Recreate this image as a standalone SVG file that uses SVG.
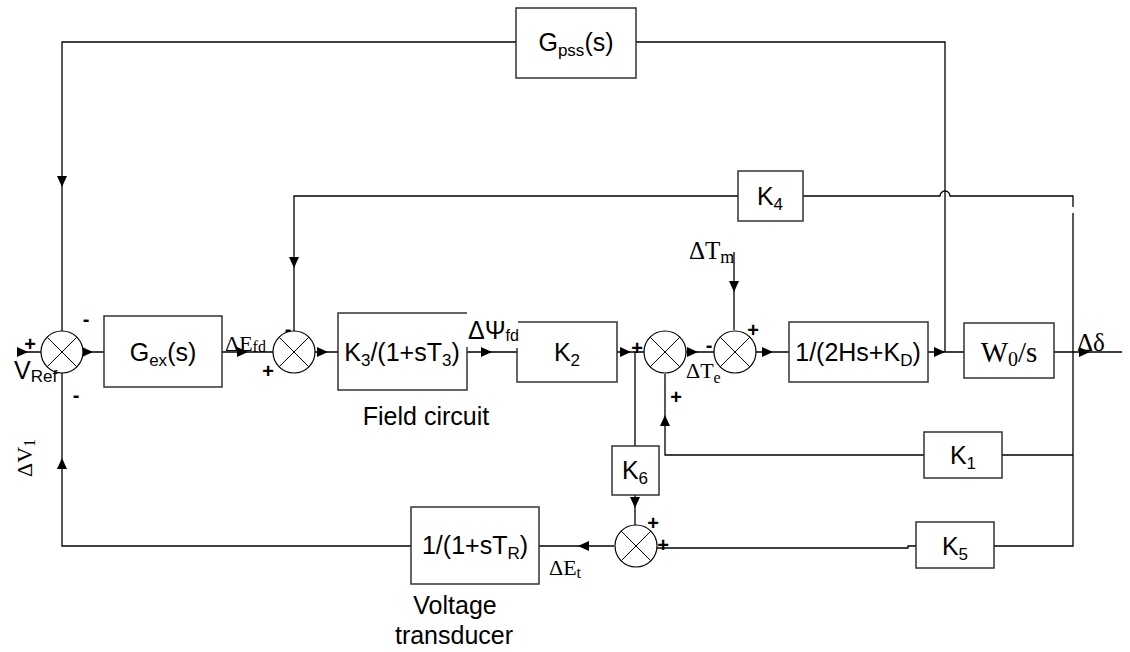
<svg xmlns="http://www.w3.org/2000/svg" width="1130" height="652" viewBox="0 0 1130 652">
<style>
.b{fill:#fff;stroke:#333;stroke-width:1.5}
.w{fill:none;stroke:#000;stroke-width:1.3}
.t{font-family:"Liberation Sans",Arial,sans-serif;font-size:25px;fill:#000}
.m{font-family:"Liberation Serif","Times New Roman",serif;font-size:22px;fill:#000}
.sg{font-family:"Liberation Sans",Arial,sans-serif;font-size:20px;font-weight:bold;fill:#000;text-anchor:middle}
.c{text-anchor:middle}
</style>
<defs>
<path id="ah" d="M0,0 L-11,-5 L-11,5 Z" fill="#000"/>
<g id="sj"><circle r="21" fill="#fff" stroke="#000" stroke-width="1.2"/><path d="M-14.8,-14.8 L14.8,14.8 M-14.8,14.8 L14.8,-14.8" stroke="#000" stroke-width="1"/></g>
</defs>
<rect width="1130" height="652" fill="#fff"/>
<g id="connectors">
<path class="w" d="M945,352 V42 H636 M516,42 H62 V331"/>
<path class="w" d="M294,331 V196 H738 M803,196 H940 A5,5 0 0 1 950,196 H1073 V207 M1073,213 V546 H994 M916,546 H908 V548 H657"/>
<path class="w" d="M1054,352 H1122 M1073,455 H1002 M924,455 H665 V374 M928,352 H964"/>
<path class="w" d="M18,352 H41 M83,352 H104 M222,352 H273 M315,352 H338 M467,352 H517 M617,352 H644 M686,352 H714 M756,352 H789"/>
<path class="w" d="M734,252 V330 M635,352 V446 M635,495 V525 M614,546 H539 M411,546 H62 V373"/>
<use href="#ah" transform="translate(28,352)"/>
<use href="#ah" transform="translate(93,352)"/>
<use href="#ah" transform="translate(248,352)"/>
<use href="#ah" transform="translate(328,352)"/>
<use href="#ah" transform="translate(492,352)"/>
<use href="#ah" transform="translate(631,352)"/>
<use href="#ah" transform="translate(698,352)"/>
<use href="#ah" transform="translate(773,352)"/>
<use href="#ah" transform="translate(945,352)"/>
<use href="#ah" transform="translate(1090,352)"/>
<use href="#ah" transform="translate(734,292) rotate(90)"/>
<use href="#ah" transform="translate(665,415) rotate(-90)"/>
<use href="#ah" transform="translate(635,508) rotate(90)"/>
<use href="#ah" transform="translate(578,546) rotate(180)"/>
<use href="#ah" transform="translate(62,458) rotate(-90)"/>
<use href="#ah" transform="translate(62,187) rotate(90)"/>
<use href="#ah" transform="translate(294,268) rotate(90)"/>
</g>
<g id="sum1"><use href="#sj" x="62" y="352"/></g>
<g id="sum2"><use href="#sj" x="294" y="352"/></g>
<g id="sumA"><use href="#sj" x="665" y="352"/></g>
<g id="sumB"><use href="#sj" x="735" y="352"/></g>
<g id="sum3"><use href="#sj" x="636" y="546"/></g>
<g id="gpss"><rect class="b" x="516" y="8" width="120" height="70"/><text class="t c" x="576" y="51">G<tspan font-size="17" dy="5">pss</tspan><tspan dy="-5">(s)</tspan></text></g>
<g id="gex"><rect class="b" x="104" y="316" width="118" height="71"/><text class="t c" x="163" y="361">G<tspan font-size="17" dy="5">ex</tspan><tspan dy="-5">(s)</tspan></text></g>
<g id="k3"><path class="b" d="M467,347 V390 H338 V313 H467" fill="none"/><text class="t c" x="402" y="361">K<tspan font-size="17" dy="5">3</tspan><tspan dy="-5">/(1+sT</tspan><tspan font-size="17" dy="5">3</tspan><tspan dy="-5">)</tspan></text></g>
<g id="k2"><path class="b" d="M517,348 V382 H617 V322 H518"/><text class="t c" x="567" y="361">K<tspan font-size="17" dy="5">2</tspan></text></g>
<g id="swing"><rect class="b" x="789" y="322" width="139" height="60"/><text class="t c" x="858" y="361">1/(2Hs+K<tspan font-size="17" dy="5">D</tspan><tspan dy="-5">)</tspan></text></g>
<g id="w0"><rect class="b" x="964" y="323" width="90" height="55"/><text class="m c" x="1009" y="362" style="font-size:29px">W<tspan font-size="20" dy="4">0</tspan><tspan dy="-4">/s</tspan></text></g>
<g id="k4"><rect class="b" x="738" y="171" width="65" height="50"/><text class="t c" x="770" y="205">K<tspan font-size="17" dy="5">4</tspan></text></g>
<g id="k1"><rect class="b" x="924" y="432" width="78" height="46"/><text class="t c" x="963" y="464">K<tspan font-size="17" dy="5">1</tspan></text></g>
<g id="k5"><rect class="b" x="916" y="522" width="78" height="46"/><text class="t c" x="955" y="555">K<tspan font-size="17" dy="5">5</tspan></text></g>
<g id="k6"><rect class="b" x="612" y="446" width="47" height="49"/><text class="t c" x="635" y="479">K<tspan font-size="17" dy="5">6</tspan></text></g>
<g id="tr"><rect class="b" x="411" y="507" width="128" height="77"/><text class="t c" x="475" y="554">1/(1+sT<tspan font-size="17" dy="5">R</tspan><tspan dy="-5">)</tspan></text></g>
<g id="labels">
<text class="sg" x="30" y="351">+</text>
<text class="sg" x="86" y="326">-</text>
<text class="sg" x="76" y="402">-</text>
<text class="sg" x="288" y="336">-</text>
<text class="sg" x="268" y="378">+</text>
<text class="sg" x="637" y="355">+</text>
<text class="sg" x="676" y="404">+</text>
<text class="sg" x="709" y="352">-</text>
<text class="sg" x="753" y="337">+</text>
<text class="sg" x="653" y="530">+</text>
<text class="sg" x="663" y="552">+</text>
<text class="t" x="14" y="379">V<tspan font-size="17" dy="3">Ref</tspan></text>
<text class="m" x="225" y="351">ΔE<tspan font-size="16" dy="1">fd</tspan></text>
<text class="t" x="468" y="339">ΔΨ<tspan font-size="16" dy="2">fd</tspan></text>
<text class="m" x="689" y="259" style="font-size:25px">ΔT<tspan font-size="18" dy="4">m</tspan></text>
<text class="m" x="686" y="378">ΔT<tspan font-size="16" dy="5">e</tspan></text>
<text class="m" x="1077" y="351" style="font-size:25px">Δδ</text>
<text class="m" x="549" y="575">ΔE<tspan font-size="16" dy="3">t</tspan></text>
<text class="m" transform="translate(32,477) rotate(-90)">ΔV<tspan font-size="16" dy="3">1</tspan></text>
<text class="t c" x="426" y="425">Field circuit</text>
<text class="t c" x="455" y="614">Voltage</text>
<text class="t c" x="454" y="644">transducer</text>
</g>
</svg>
